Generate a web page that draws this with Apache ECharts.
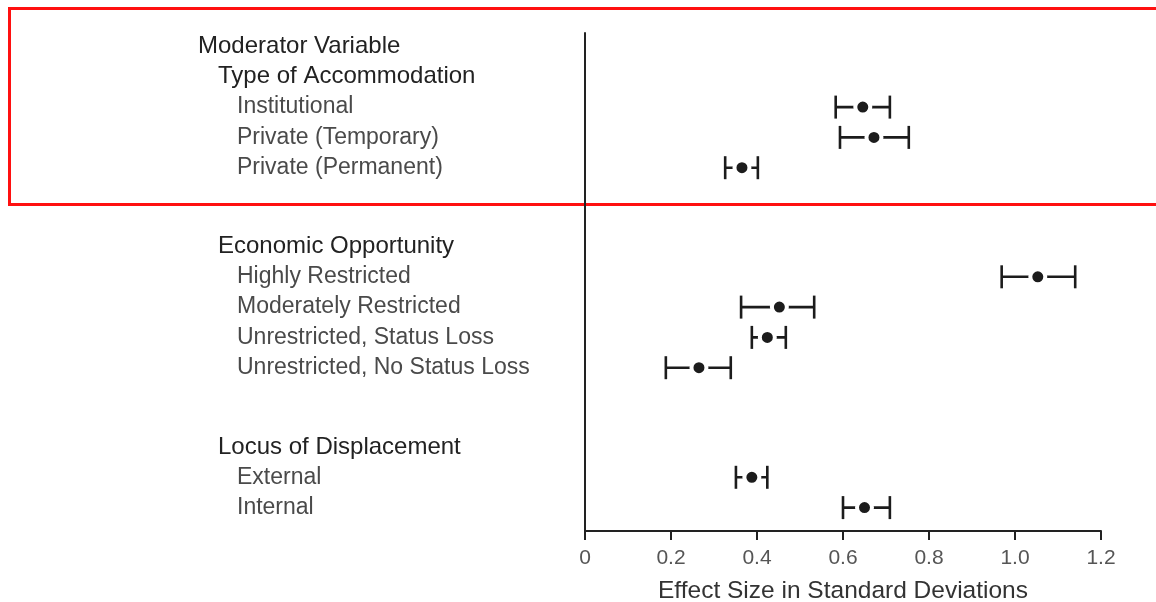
<!DOCTYPE html>
<html>
<head>
<meta charset="utf-8">
<script src="https://cdn.jsdelivr.net/npm/echarts@6/dist/echarts.min.js"></script>
<style>
  html, body { margin: 0; padding: 0; background: #ffffff; }
  #chart { width: 1156px; height: 602px; }
</style>
</head>
<body>
<div id="chart"></div>
<script>
// ---- Data ----
const rowsA = ['Moderator Variable', 'Type of Accommodation', 'Institutional', 'Private (Temporary)', 'Private (Permanent)'];
const levelsA = [0, 1, 2, 2, 2];
const meanA = [null, null, 0.646, 0.672, 0.365];
const lowA  = [null, null, 0.583, 0.593, 0.326];
const highA = [null, null, 0.709, 0.753, 0.402];

const rowsB = ['Economic Opportunity', 'Highly Restricted', 'Moderately Restricted', 'Unrestricted, Status Loss', 'Unrestricted, No Status Loss'];
const levelsB = [1, 2, 2, 2, 2];
const meanB = [null, 1.053, 0.452, 0.424, 0.265];
const lowB  = [null, 0.969, 0.363, 0.388, 0.188];
const highB = [null, 1.140, 0.533, 0.467, 0.339];

const rowsC = ['Locus of Displacement', 'External', 'Internal'];
const levelsC = [1, 2, 2];
const meanC = [null, 0.388, 0.650];
const lowC  = [null, 0.351, 0.600];
const highC = [null, 0.424, 0.709];

const xTicks = [0, 0.2, 0.4, 0.6, 0.8, 1.0, 1.2];
const xTitle = 'Effect Size in Standard Deviations';

// ---- Build ----
const FONT = '"Liberation Sans", Arial, Helvetica, sans-serif';
const INK = '#1c1c1c';
const groups = [
  { rows: rowsA, levels: levelsA, mean: meanA, low: lowA, high: highA, top: 31.35, height: 151.5 },
  { rows: rowsB, levels: levelsB, mean: meanB, low: lowB, high: highB, top: 231.35, height: 151.5 },
  { rows: rowsC, levels: levelsC, mean: meanC, low: lowC, high: highC, top: 431.85, height: 90.9 }
];

const LEFT = 585, RIGHT = 1156 - 1101;
const grids = [{ left: LEFT, right: RIGHT, top: 33, bottom: 602 - 531, containLabel: false, outerBoundsMode: 'none' }];
const xAxes = [{
  gridIndex: 0, type: 'value', min: 0, max: 1.2, interval: 0.2,
  axisLine: { show: true, lineStyle: { color: '#222', width: 2 } },
  axisTick: { show: true, length: 9, lineStyle: { color: '#222', width: 2 } },
  splitLine: { show: false },
  axisLabel: {
    margin: 17, color: '#555', fontFamily: FONT, fontSize: 21,
    formatter: v => { const t = xTicks.find(k => Math.abs(k - v) < 1e-9); return t === 0 ? '0' : t.toFixed(1); }
  },
  name: xTitle, nameLocation: 'middle', nameGap: 48,
  nameTextStyle: { color: '#333', fontFamily: FONT, fontSize: 24.5 }
}];
const yAxes = [{
  gridIndex: 0, type: 'value', min: 0, max: 1,
  axisLine: { show: true, lineStyle: { color: '#222', width: 2 } },
  axisTick: { show: false }, axisLabel: { show: false }, splitLine: { show: false }
}];
const series = [];
const indent = [0, 20, 39];

groups.forEach((g, gi) => {
  const idx = gi + 1;
  grids.push({ left: LEFT, right: RIGHT, top: g.top, height: g.height, containLabel: false, outerBoundsMode: 'none' });
  xAxes.push({ gridIndex: idx, type: 'value', min: 0, max: 1.2, show: false });
  yAxes.push({
    gridIndex: idx, type: 'category', data: g.rows, inverse: true,
    axisLine: { show: false }, axisTick: { show: false }, splitLine: { show: false },
    axisLabel: {
      show: true, align: 'left', margin: LEFT - 198, interval: 0,
      formatter: (val, i) => '{l' + g.levels[i] + '|' + val + '}',
      rich: {
        l0: { fontFamily: FONT, fontSize: 24, color: '#222', padding: [0, 0, 0, indent[0]] },
        l1: { fontFamily: FONT, fontSize: 24, color: '#222', padding: [0, 0, 0, indent[1]] },
        l2: { fontFamily: FONT, fontSize: 23, color: '#4a4a4a', padding: [0, 0, 0, indent[2]] }
      }
    }
  });
  const data = [];
  g.rows.forEach((r, i) => {
    if (g.mean[i] != null) data.push([g.low[i], g.high[i], g.mean[i], i]);
  });
  series.push({
    type: 'custom', xAxisIndex: idx, yAxisIndex: idx, data: data,
    encode: { x: [0, 1, 2], y: 3 },
    renderItem: (params, api) => {
      const lo = api.coord([api.value(0), api.value(3)]);
      const hi = api.coord([api.value(1), api.value(3)]);
      const m = api.coord([api.value(2), api.value(3)]);
      const capH = 11.5;
      const ls = { stroke: INK, lineWidth: 2.6 };
      return {
        type: 'group',
        children: [
          { type: 'line', shape: { x1: lo[0], y1: lo[1], x2: hi[0], y2: hi[1] }, style: ls },
          { type: 'line', shape: { x1: lo[0], y1: lo[1] - capH, x2: lo[0], y2: lo[1] + capH }, style: ls },
          { type: 'line', shape: { x1: hi[0], y1: hi[1] - capH, x2: hi[0], y2: hi[1] + capH }, style: ls },
          { type: 'circle', shape: { cx: m[0], cy: m[1], r: 7.5 }, style: { fill: INK, stroke: '#fff', lineWidth: 4 } }
        ]
      };
    }
  });
});

const chart = echarts.init(document.getElementById('chart'), null, { renderer: 'canvas' });
chart.setOption({
  backgroundColor: '#ffffff',
  animation: false,
  grid: grids,
  xAxis: xAxes,
  yAxis: yAxes,
  series: series,
  graphic: [{
    type: 'rect', silent: true,
    shape: { x: 9.5, y: 8.5, width: 1160, height: 196 },
    style: { fill: 'none', stroke: '#ff1010', lineWidth: 3 }
  }]
});
</script>
</body>
</html>
